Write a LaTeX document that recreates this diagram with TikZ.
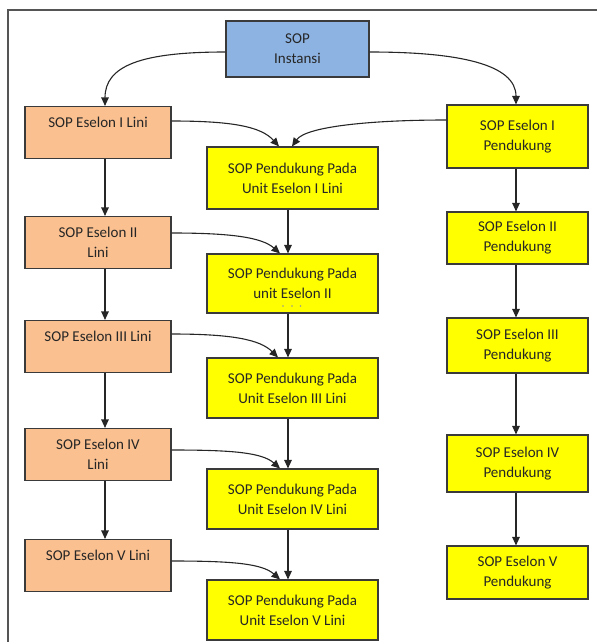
\documentclass[tikz,border=0pt]{standalone}
\usepackage{fontspec}
\setmainfont{Carlito}
\usetikzlibrary{arrows.meta}
\definecolor{salmon}{HTML}{FAC090}
\definecolor{skyb}{HTML}{8DB3E2}
\definecolor{yel}{HTML}{FFFF00}
\definecolor{edge}{HTML}{3A3A3A}
\definecolor{frame}{HTML}{555555}
\tikzset{
  box/.style={draw=edge, line width=1.1pt, inner sep=0pt, align=center,
    font=\fontsize{15}{20}\selectfont, text=black!85},
  lini/.style={box, fill=salmon, minimum width=146pt, minimum height=52pt},
  mid/.style={box, fill=yel, minimum width=171pt, minimum height=60pt},
  pend/.style={box, fill=yel, minimum width=141pt, minimum height=54pt},
  conn/.style={draw=black!85, line width=1.1pt, -{Triangle[length=8.5pt,width=7.5pt]}},
  dotmark/.style={fill=black!40, draw=none},
}
\begin{document}
\begin{tikzpicture}[x=1pt,y=-1pt]
\useasboundingbox (0,0) rectangle (597,642);
% frame
\draw[frame, line width=1.4pt] (8,642) -- (8,10) -- (597,10);
% nodes
\node[box, fill=skyb, minimum width=143pt, minimum height=56pt] (inst) at (297.5,49) {SOP\\Instansi};
\node[lini] (L1) at (98,132.5) {SOP Eselon I Lini\\\mbox{}};
\node[lini] (L2) at (98,242.5) {SOP Eselon II\\Lini};
\node[lini] (L3) at (98,346.5) {SOP Eselon III Lini\\\mbox{}};
\node[lini] (L4) at (98,454.5) {SOP Eselon IV\\Lini};
\node[lini] (L5) at (98,565.5) {SOP Eselon V Lini\\\mbox{}};
\node[mid, minimum height=62pt] (M1) at (292.5,178) {SOP Pendukung Pada\\Unit Eselon I Lini};
\node[mid, minimum height=59pt] (M2) at (292.5,283.5) {\raisebox{3pt}{\parbox{150pt}{\centering SOP Pendukung Pada\\unit Eselon II}}};
\fill[dotmark] (283,306) circle (0.9) (292,306) circle (0.9) (300.5,306) circle (0.9);
\node[mid] (M3) at (292.5,388) {SOP Pendukung Pada\\Unit Eselon III Lini};
\node[mid] (M4) at (292.5,499) {SOP Pendukung Pada\\Unit Eselon IV Lini};
\node[mid] (M5) at (292.5,610) {SOP Pendukung Pada\\Unit Eselon V Lini};
\node[pend, minimum height=63pt] (R1) at (517.5,136.5) {SOP Eselon I\\Pendukung};
\node[pend, minimum height=52pt] (R2) at (517.5,238) {SOP Eselon II\\Pendukung};
\node[pend, minimum height=55pt] (R3) at (517.5,345.5) {SOP Eselon III\\Pendukung};
\node[pend, minimum height=57pt] (R4) at (517.5,463.5) {SOP Eselon IV\\Pendukung};
\node[pend, minimum height=53pt] (R5) at (517.5,572.5) {SOP Eselon V\\Pendukung};
% top curves
\draw[conn] ([yshift=-3pt]inst.west) .. controls +(-85,0) and +(0,-40) .. ([xshift=7pt]L1.north);
\draw[conn] ([yshift=-3pt]inst.east) .. controls +(90,0) and +(0,-40) .. ([xshift=-1.5pt]R1.north);
% left verticals
\draw[conn] ([xshift=7pt]L1.south) -- ([xshift=7pt]L2.north);
\draw[conn] ([xshift=7pt]L2.south) -- ([xshift=7pt]L3.north);
\draw[conn] ([xshift=7pt]L3.south) -- ([xshift=7pt]L4.north);
\draw[conn] ([xshift=7pt]L4.south) -- ([xshift=7pt]L5.north);
% middle verticals
\draw[conn] ([xshift=-4.5pt]M1.south) -- ([xshift=-4.5pt]M2.north);
\draw[conn] ([xshift=-4.5pt]M2.south) -- ([xshift=-4.5pt]M3.north);
\draw[conn] ([xshift=-4.5pt]M3.south) -- ([xshift=-4.5pt]M4.north);
\draw[conn] ([xshift=-4.5pt]M4.south) -- ([xshift=-4.5pt]M5.north);
% right verticals
\draw[conn] ([xshift=-1.5pt]R1.south) -- ([xshift=-1.5pt]R2.north);
\draw[conn] ([xshift=-1.5pt]R2.south) -- ([xshift=-1.5pt]R3.north);
\draw[conn] ([xshift=-1.5pt]R3.south) -- ([xshift=-1.5pt]R4.north);
\draw[conn] ([xshift=-1.5pt]R4.south) -- ([xshift=-1.5pt]R5.north);
% lini -> pendukung pada
\draw[conn] ([yshift=11.5pt]L1.east) .. controls +(60,0) and +(-18,-20) .. ([xshift=-13.5pt]M1.north);
\draw[conn] ([yshift=16.5pt]R1.west) .. controls +(-75,0) and +(14,-20) .. ([xshift=-0.5pt]M1.north);
\draw[conn] ([yshift=9.5pt]L2.east) .. controls +(60,0) and +(-18,-16) .. ([xshift=-12.5pt]M2.north);
\draw[conn] ([yshift=12.5pt]L3.east) .. controls +(60,0) and +(-18,-18) .. ([xshift=-14.5pt]M3.north);
\draw[conn] ([yshift=4.5pt]L4.east) .. controls +(60,0) and +(-18,-16) .. ([xshift=-12.5pt]M4.north);
\draw[conn] ([yshift=4.5pt]L5.east) .. controls +(60,0) and +(-18,-16) .. ([xshift=-12.5pt]M5.north);
\end{tikzpicture}
\end{document}
